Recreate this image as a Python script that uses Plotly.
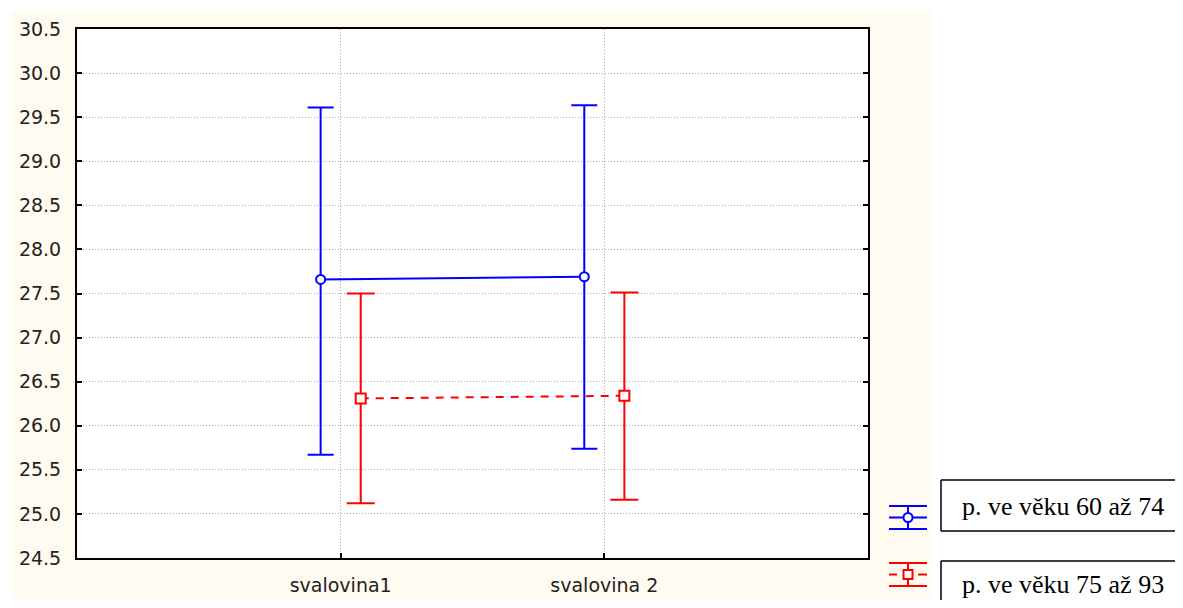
import plotly.graph_objects as go

# ---- data ----
categories = ["svalovina1", "svalovina 2"]
series_names = ["p. ve věku 60 až 74", "p. ve věku 75 až 93"]
blue_mean = [27.66, 27.69]
blue_upper = [29.61, 29.635]
blue_lower = [25.67, 25.74]
red_mean = [26.31, 26.34]
red_upper = [27.50, 27.51]
red_lower = [25.12, 25.16]
y_ticks = [24.5, 25.0, 25.5, 26.0, 26.5, 27.0, 27.5, 28.0, 28.5, 29.0, 29.5, 30.0, 30.5]

W, H = 1183, 608
D = 8  # page body margin offset
FW, FH = W - 2 * D, H - 2 * D  # figure size so the page does not scroll
L, R, T, B = 77, 868, 29, 558  # screen pixel positions of plot frame

def px(x):
    return (x - L) / (R - L)

def py(y):
    return (B - y) / (B - T)

BLUE = "#0000FF"
RED = "#FF0000"
OFF = 0.076

idx = list(range(len(categories)))

fig = go.Figure()
fig.add_trace(go.Scatter(
    x=[i - OFF for i in idx], y=blue_mean, mode="lines+markers",
    name=series_names[0],
    line=dict(color=BLUE, width=2),
    marker=dict(symbol="circle", size=9, color="white", line=dict(color=BLUE, width=2)),
    error_y=dict(type="data", symmetric=False,
                 array=[u - m for u, m in zip(blue_upper, blue_mean)],
                 arrayminus=[m - l for m, l in zip(blue_mean, blue_lower)],
                 color=BLUE, thickness=2, width=13),
    showlegend=False,
))
fig.add_trace(go.Scatter(
    x=[i + OFF for i in idx], y=red_mean, mode="lines+markers",
    name=series_names[1],
    line=dict(color=RED, width=2, dash="8px,7px"),
    marker=dict(symbol="square", size=10, color="white", line=dict(color=RED, width=2)),
    error_y=dict(type="data", symmetric=False,
                 array=[u - m for u, m in zip(red_upper, red_mean)],
                 arrayminus=[m - l for m, l in zip(red_mean, red_lower)],
                 color=RED, thickness=2, width=14),
    showlegend=False,
))

shapes = []
shapes.append(dict(type="rect", xref="paper", yref="paper", layer="below",
                   x0=px(11), x1=px(931), y0=py(11), y1=py(603),
                   fillcolor="#FFFBF0", line=dict(width=0)))
shapes.append(dict(type="rect", xref="paper", yref="paper", layer="below",
                   x0=0, x1=1, y0=0, y1=1,
                   fillcolor="white", line=dict(width=0)))

def hline(x0, x1, y, color, width=2):
    return dict(type="line", xref="paper", yref="paper",
                x0=px(x0), x1=px(x1), y0=py(y), y1=py(y),
                line=dict(color=color, width=width))

def vline(x, y0, y1, color, width=2):
    return dict(type="line", xref="paper", yref="paper",
                x0=px(x), x1=px(x), y0=py(y0), y1=py(y1),
                line=dict(color=color, width=width))

def legend_symbol(cy, color, symbol, split):
    x0, x1, xc = 889, 927, 908
    s = [hline(x0, x1, cy - 11.5, color), hline(x0, x1, cy + 11.5, color),
         vline(xc, cy - 11.5, cy + 11.5, color)]
    if split:
        s.append(hline(x0, 897, cy, color))
        s.append(hline(918, x1, cy, color))
    else:
        s.append(hline(x0, x1, cy, color))
    s.append(dict(type=symbol, xref="paper", yref="paper",
                  x0=px(xc - 4.5), x1=px(xc + 4.5), y0=py(cy - 4.5), y1=py(cy + 4.5),
                  fillcolor="white", line=dict(color=color, width=2)))
    return s

shapes += legend_symbol(517.5, BLUE, "circle", False)
shapes += legend_symbol(574.5, RED, "rect", True)

# legend boxes (open to the right / bottom, as in the reference crop)
shapes += [
    hline(941, 1190, 480, "black", 1.5),
    hline(941, 1190, 531, "black", 1.5),
    vline(941, 480, 531, "black", 1.5),
    hline(941, 1190, 561, "black", 1.5),
    vline(941, 561, 610, "black", 1.5),
]

legend_font = dict(family="Liberation Serif", size=26, color="black")
annotations = [
    dict(text=series_names[0], xref="paper", yref="paper", x=px(960), y=py(506),
         xanchor="left", yanchor="middle", showarrow=False, font=legend_font),
    dict(text=series_names[1], xref="paper", yref="paper", x=px(960), y=py(584),
         xanchor="left", yanchor="middle", showarrow=False, font=legend_font),
]

axis_font = dict(family="DejaVu Sans", size=19, color="#222222")
grid_style = dict(showgrid=True, gridcolor="#A8A8A8", griddash="1px,2px", gridwidth=1)

fig.update_layout(
    width=FW, height=FH,
    margin=dict(l=L - D, r=FW - (R - D), t=T - D, b=FH - (B - D), pad=0,
                autoexpand=False),
    paper_bgcolor="white",
    plot_bgcolor="rgba(0,0,0,0)",
    shapes=shapes,
    annotations=annotations,
    showlegend=False,
    xaxis=dict(
        range=[-1, 2.0], tickvals=idx, ticktext=categories, **grid_style,
        zeroline=False, showline=True, linecolor="black", linewidth=2,
        mirror=True, ticks="inside", ticklen=5, tickwidth=2, tickcolor="black",
        tickfont=axis_font, ticklabelstandoff=9, automargin=False,
    ),
    yaxis=dict(
        range=[24.5, 30.5], tickvals=y_ticks, tickformat=".1f", **grid_style,
        zeroline=False, showline=True, linecolor="black", linewidth=2,
        mirror="ticks", ticks="inside", ticklen=5, tickwidth=2, tickcolor="black",
        tickfont=axis_font, ticklabelstandoff=10, automargin=False,
    ),
)

fig.write_html("out.html")
